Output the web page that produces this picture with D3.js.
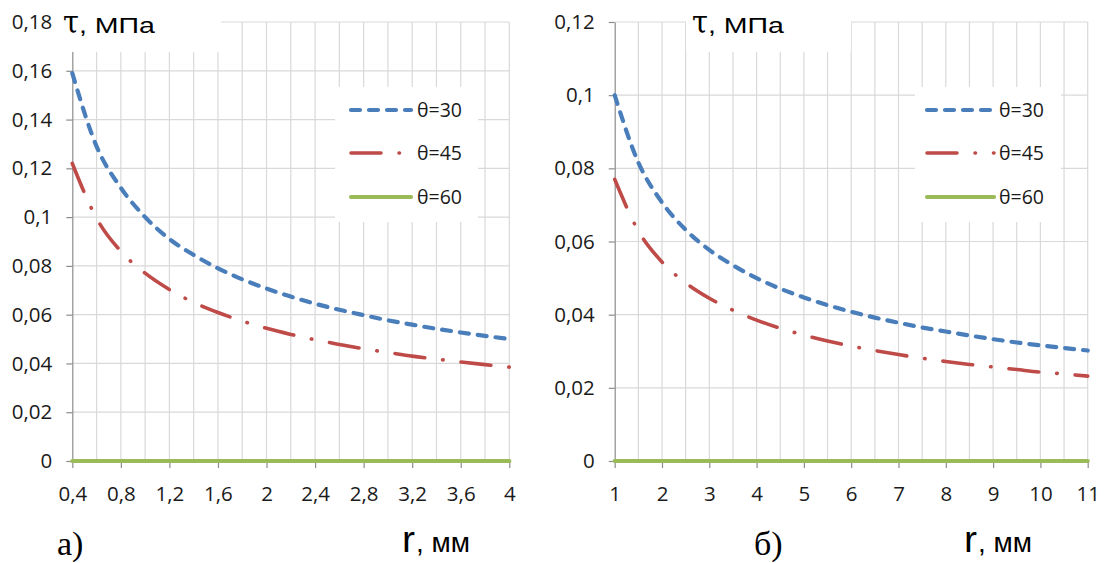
<!DOCTYPE html>
<html><head><meta charset="utf-8">
<script src="https://cdn.jsdelivr.net/npm/d3@7"></script>
<style>html,body{margin:0;padding:0;background:#fff;} svg{display:block}</style>
</head><body><svg id="c" width="1106" height="563"></svg>
<script>
// ---------------- DATA ----------------
const seriesNames = ["θ=30", "θ=45", "θ=60"];

// panel а)
const rA = [0.4, 0.6, 0.8, 1.0, 1.2, 1.4, 1.6, 1.8, 2.0, 2.2, 2.4, 2.6, 2.8, 3.0, 3.2, 3.4, 3.6, 3.8, 4.0];
const tau30A = [0.159, 0.129, 0.112, 0.100, 0.091, 0.0845, 0.079, 0.0745, 0.0707, 0.0674, 0.0645, 0.062, 0.0598, 0.0577, 0.0559, 0.0542, 0.0527, 0.0513, 0.0500];
const tau45A = [0.122, 0.0995, 0.086, 0.077, 0.0703, 0.065, 0.0609, 0.0574, 0.0544, 0.0519, 0.0497, 0.0478, 0.046, 0.0445, 0.043, 0.0418, 0.0406, 0.0395, 0.0385];
const tau60A = [0, 0, 0, 0, 0, 0, 0, 0, 0, 0, 0, 0, 0, 0, 0, 0, 0, 0, 0];
const xTicksA = [0.4, 0.8, 1.2, 1.6, 2.0, 2.4, 2.8, 3.2, 3.6, 4.0];
const xTickLabelsA = ["0,4", "0,8", "1,2", "1,6", "2", "2,4", "2,8", "3,2", "3,6", "4"];
const xGridA = [0.4, 0.6, 0.8, 1.0, 1.2, 1.4, 1.6, 1.8, 2.0, 2.2, 2.4, 2.6, 2.8, 3.0, 3.2, 3.4, 3.6, 3.8, 4.0];
const yTicksA = [0, 0.02, 0.04, 0.06, 0.08, 0.10, 0.12, 0.14, 0.16, 0.18];
const yTickLabelsA = ["0", "0,02", "0,04", "0,06", "0,08", "0,1", "0,12", "0,14", "0,16", "0,18"];

// panel б)
const rB = [1, 1.5, 2, 2.5, 3, 3.5, 4, 4.5, 5, 5.5, 6, 6.5, 7, 7.5, 8, 8.5, 9, 9.5, 10, 10.5, 11];
const tau30B = [0.100, 0.0816, 0.0707, 0.0632, 0.0577, 0.0535, 0.0500, 0.0471, 0.0447, 0.0426, 0.0408, 0.0392, 0.0378, 0.0365, 0.0354, 0.0343, 0.0333, 0.0324, 0.0316, 0.0309, 0.0302];
const tau45B = [0.077, 0.0629, 0.0544, 0.0487, 0.0445, 0.0412, 0.0385, 0.0363, 0.0344, 0.0328, 0.0314, 0.0302, 0.0291, 0.0281, 0.0272, 0.0264, 0.0257, 0.0250, 0.0243, 0.0238, 0.0232];
const tau60B = [0, 0, 0, 0, 0, 0, 0, 0, 0, 0, 0, 0, 0, 0, 0, 0, 0, 0, 0, 0, 0];
const xTicksB = [1, 2, 3, 4, 5, 6, 7, 8, 9, 10, 11];
const xTickLabelsB = ["1", "2", "3", "4", "5", "6", "7", "8", "9", "10", "11"];
const xGridB = [1, 1.5, 2, 2.5, 3, 3.5, 4, 4.5, 5, 5.5, 6, 6.5, 7, 7.5, 8, 8.5, 9, 9.5, 10, 10.5, 11];
const yTicksB = [0, 0.02, 0.04, 0.06, 0.08, 0.10, 0.12];
const yTickLabelsB = ["0", "0,02", "0,04", "0,06", "0,08", "0,1", "0,12"];

// ---------------- STYLE / LAYOUT ----------------
const colors = ["#4a7ebb", "#be4b48", "#9bbb59"];
const dashes = ["9 9", "30 18 0.5 18", null];
const widths = [4.2, 3.6, 4.2];
const tickFont = "'Open Sans', 'Liberation Sans', sans-serif";
const gridColor = "#d9d9d9";
const axisColor = "#8c8c8c";

const svg = d3.select("#c");

function drawPanel(p) {
  const x = d3.scaleLinear().domain([p.xGrid[0], p.xGrid[p.xGrid.length - 1]]).range([p.left, p.right]);
  const y = d3.scaleLinear().domain([p.yTicks[0], p.yTicks[p.yTicks.length - 1]]).range([p.bottom, p.top]);
  const g = svg.append("g");

  // gridlines
  g.append("g").selectAll("line").data(p.xGrid.slice(1)).join("line")
    .attr("x1", d => x(d)).attr("x2", d => x(d)).attr("y1", p.top).attr("y2", p.bottom)
    .attr("stroke", gridColor).attr("stroke-width", 1.2);
  g.append("g").selectAll("line").data(p.yTicks.slice(1)).join("line")
    .attr("x1", p.left).attr("x2", p.right).attr("y1", d => y(d)).attr("y2", d => y(d))
    .attr("stroke", gridColor).attr("stroke-width", 1.2);

  // axes
  const ya = d3.axisLeft(y).tickValues(p.yTicks).tickSize(6).tickSizeOuter(0).tickPadding(14)
    .tickFormat((d, i) => p.yLabels[i]);
  const yg = g.append("g").attr("transform", `translate(${p.left},0)`).call(ya);
  const xa = d3.axisBottom(x).tickValues(p.xTicks).tickSize(7).tickSizeOuter(0).tickPadding(18)
    .tickFormat((d, i) => p.xLabels[i]);
  const xg = g.append("g").attr("transform", `translate(0,${p.bottom})`).call(xa);
  [yg, xg].forEach(a => {
    a.select(".domain").attr("stroke", axisColor).attr("stroke-width", 1.2);
    a.selectAll(".tick line").attr("stroke", axisColor).attr("stroke-width", 1.2);
    a.selectAll(".tick text").attr("font-family", tickFont).attr("font-size", 20.5).attr("fill", "#1a1a1a");
  });

  // white box behind the axis title (covers top of plot)
  g.append("rect").attr("x", p.titleBox[0]).attr("y", 8)
    .attr("width", p.titleBox[1] - p.titleBox[0]).attr("height", 52 - 8).attr("fill", "#fff");

  // series
  const line = d3.line().x(d => x(d[0])).y(d => y(d[1])).curve(d3.curveMonotoneX);
  p.series.forEach((vals, i) => {
    const pts = p.r.map((r, k) => [r, vals[k]]);
    const path = g.append("path").datum(pts).attr("d", line)
      .attr("fill", "none").attr("stroke", colors[i]).attr("stroke-width", widths[i])
      .attr("stroke-linecap", "round");
    if (dashes[i]) path.attr("stroke-dasharray", dashes[i]);
  });

  // legend
  g.append("rect").attr("x", p.legend.x0).attr("y", 87)
    .attr("width", p.legend.x1 - p.legend.x0).attr("height", 222 - 87).attr("fill", "#fff");
  const rowsY = [110, 153, 197];
  seriesNames.forEach((name, i) => {
    const l = g.append("line").attr("x1", p.legend.s0).attr("x2", p.legend.s1)
      .attr("y1", rowsY[i]).attr("y2", rowsY[i])
      .attr("stroke", colors[i]).attr("stroke-width", widths[i]).attr("stroke-linecap", "round");
    if (dashes[i]) l.attr("stroke-dasharray", dashes[i]);
    g.append("text").attr("x", p.legend.t).attr("y", rowsY[i] + 7)
      .attr("font-family", tickFont).attr("font-size", 19.5).attr("fill", "#1a1a1a").text(name);
  });

  // y axis title "τ, МПа"
  g.append("text").attr("x", p.tauX).attr("y", 33)
    .attr("font-family", "'DejaVu Serif', serif").attr("font-size", 32).attr("fill", "#000")
    .attr("textLength", 16).attr("lengthAdjust", "spacingAndGlyphs").text("τ");
  g.append("text").attr("x", p.tauX + 16).attr("y", 33)
    .attr("font-family", "'Liberation Sans', Arial, sans-serif").attr("font-size", 22).attr("fill", "#000")
    .attr("textLength", 76).attr("lengthAdjust", "spacingAndGlyphs").text(", МПа");

  // x axis title "r, мм"
  g.append("text").attr("x", p.rX).attr("y", 552)
    .attr("font-family", "'Liberation Sans', Arial, sans-serif").attr("font-size", 36).attr("fill", "#000")
    .attr("textLength", 13).attr("lengthAdjust", "spacingAndGlyphs").text("r");
  g.append("text").attr("x", p.rX + 14).attr("y", 552)
    .attr("font-family", "'Liberation Sans', Arial, sans-serif").attr("font-size", 28).attr("fill", "#000")
    .attr("textLength", 54).attr("lengthAdjust", "spacingAndGlyphs").text(", мм");

  // panel label
  g.append("text").attr("x", p.labelX).attr("y", 555)
    .attr("font-family", "'Liberation Serif', serif").attr("font-size", 34).attr("fill", "#000").text(p.label);
}

drawPanel({
  left: 72.3, right: 509.3, top: 22, bottom: 461,
  xGrid: xGridA, xTicks: xTicksA, xLabels: xTickLabelsA, yTicks: yTicksA, yLabels: yTickLabelsA,
  r: rA, series: [tau30A, tau45A, tau60A],
  titleBox: [55, 221], legend: { x0: 335, x1: 478, s0: 351, s1: 411, t: 417 },
  tauX: 63, rX: 402, labelX: 57, label: "а)"
});
drawPanel({
  left: 614.7, right: 1087.7, top: 22, bottom: 461,
  xGrid: xGridB, xTicks: xTicksB, xLabels: xTickLabelsB, yTicks: yTicksB, yLabels: yTickLabelsB,
  r: rB, series: [tau30B, tau45B, tau60B],
  titleBox: [686, 851], legend: { x0: 915, x1: 1061, s0: 927, s1: 994, t: 999 },
  tauX: 692, rX: 964, labelX: 754, label: "б)"
});
</script>
</body></html>
